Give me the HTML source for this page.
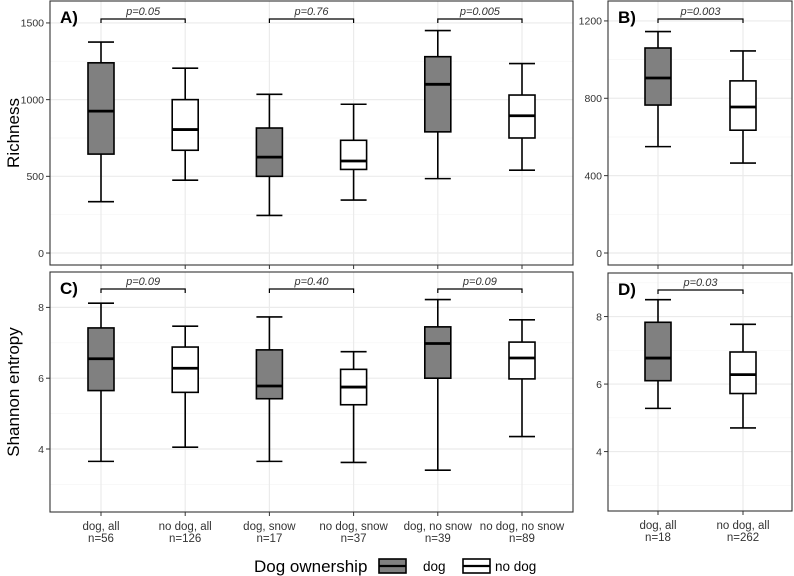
<!DOCTYPE html>
<html><head><meta charset="utf-8"><style>
body{margin:0;background:#fff;}
svg{display:block;font-family:"Liberation Sans",Arial,sans-serif;}
</style></head><body>
<svg id="chart" width="794" height="576" viewBox="0 0 794 576"></svg>
<script>
const catsLeft = ["dog, all","no dog, all","dog, snow","no dog, snow","dog, no snow","no dog, no snow"];
const nLeft = ["n=56","n=126","n=17","n=37","n=39","n=89"];
const groupLeft = ["dog","nodog","dog","nodog","dog","nodog"];
const catsRight = ["dog, all","no dog, all"];
const nRight = ["n=18","n=262"];
const groupRight = ["dog","nodog"];
// [min, q1, median, q3, max]
const richA = [[335,645,925,1240,1375],[475,670,805,1000,1205],[245,500,625,815,1035],[345,545,600,735,970],[485,790,1100,1280,1450],[540,750,895,1030,1235]];
const richB = [[550,765,905,1060,1145],[465,635,755,890,1045]];
const shanC = [[3.65,5.65,6.55,7.42,8.12],[4.05,5.6,6.28,6.88,7.47],[3.65,5.42,5.78,6.8,7.73],[3.62,5.25,5.75,6.25,6.75],[3.4,6.0,6.98,7.45,8.22],[4.35,5.98,6.57,7.02,7.65]];
const shanD = [[5.28,6.1,6.77,7.83,8.5],[4.7,5.72,6.28,6.95,7.77]];
const ticksA = [0,500,1000,1500], minorA=[250,750,1250];
const ticksB = [0,400,800,1200], minorB=[200,600,1000];
const ticksC = [4,6,8], minorC=[3,5,7,9];
const pA = ["p=0.05","p=0.76","p=0.005"], pB=["p=0.003"], pC=["p=0.09","p=0.40","p=0.09"], pD=["p=0.03"];

const svg=document.getElementById('chart');
const NS='http://www.w3.org/2000/svg';
function mk(tag,attrs,parent){const e=document.createElementNS(NS,tag);for(const k in attrs)e.setAttribute(k,attrs[k]);(parent||svg).appendChild(e);return e;}

function panel(o){
  const g=mk('g',{});
  
  
  const y=v=>o.y1-(v-o.d0)/(o.d1-o.d0)*(o.y1-o.y0);
  const x=i=>o.cx0+i*o.step;
  mk('rect',{x:o.x0,y:o.y0,width:o.x1-o.x0,height:o.y1-o.y0,fill:'#fff'},g);
  o.minor.forEach(v=>{if(y(v)>o.y0&&y(v)<o.y1)mk('line',{x1:o.x0,x2:o.x1,y1:y(v),y2:y(v),stroke:'#f5f5f5','stroke-width':0.7},g);});
  o.ticks.forEach(v=>{mk('line',{x1:o.x0,x2:o.x1,y1:y(v),y2:y(v),stroke:'#ebebeb','stroke-width':1.2},g);});
  o.data.forEach((d,i)=>mk('line',{x1:x(i),x2:x(i),y1:o.y0,y2:o.y1,stroke:'#ebebeb','stroke-width':1.2},g));
  o.data.forEach((d,i)=>{
    const bg=mk('g',{},g);
    
    
    const cx=x(i),hw=13;
    mk('line',{x1:cx,x2:cx,y1:y(d[0]),y2:y(d[1]),stroke:'#000','stroke-width':1.6},bg);
    mk('line',{x1:cx,x2:cx,y1:y(d[3]),y2:y(d[4]),stroke:'#000','stroke-width':1.6},bg);
    mk('line',{x1:cx-hw,x2:cx+hw,y1:y(d[0]),y2:y(d[0]),stroke:'#000','stroke-width':1.6},bg);
    mk('line',{x1:cx-hw,x2:cx+hw,y1:y(d[4]),y2:y(d[4]),stroke:'#000','stroke-width':1.6},bg);
    mk('rect',{x:cx-hw,y:y(d[3]),width:2*hw,height:y(d[1])-y(d[3]),fill:o.groups[i]==='dog'?'#808080':'#fff',stroke:'#000','stroke-width':1.6},bg);
    mk('line',{x1:cx-hw,x2:cx+hw,y1:y(d[2]),y2:y(d[2]),stroke:'#000','stroke-width':2.8},bg);
  });
  o.p.forEach((t,k)=>{
    const xa=x(2*k),xb=x(2*k+1),by=o.by;
    const b=mk('path',{d:`M${xa},${by+4}V${by}H${xb}V${by+4}`,fill:'none',stroke:'#000','stroke-width':1.2},g);
    
    
    const tx=mk('text',{x:(xa+xb)/2,y:by-4,'text-anchor':'middle','font-size':11,'font-style':'italic',fill:'#333'},g);
    tx.textContent=t;
    
    
  });
  mk('rect',{x:o.x0,y:o.y0,width:o.x1-o.x0,height:o.y1-o.y0,fill:'none',stroke:'#333','stroke-width':1.1},g);
  o.ticks.forEach(v=>{
    mk('line',{x1:o.x0-4,x2:o.x0,y1:y(v),y2:y(v),stroke:'#333','stroke-width':1},g);
    const t=mk('text',{x:o.x0-6,y:y(v)+3.8,'text-anchor':'end','font-size':10.5,fill:'#333'},g);
    t.textContent=v;
    
    
  });
  const lab=mk('text',{x:o.x0+10,y:o.y0+22,'font-size':17,'font-weight':'bold',fill:'#000'},g);
  lab.textContent=o.label;
  
  
  o.data.forEach((d,i)=>mk('line',{x1:x(i),x2:x(i),y1:o.y1,y2:o.y1+4,stroke:'#333','stroke-width':1},g));
  if(o.xlab){
    o.data.forEach((d,i)=>{
      const t1=mk('text',{x:x(i),y:o.y1+18,'text-anchor':'middle','font-size':11.5,fill:'#333'},g);
      t1.textContent=o.cats[i];
      
      
      const t2=mk('text',{x:x(i),y:o.y1+30,'text-anchor':'middle','font-size':11.5,fill:'#333'},g);
      t2.textContent=o.ns[i];
      
      
    });
  }
}
panel({name:'panel-a-richness',label:'A)',x0:50,x1:573,y0:1,y1:265,d0:-78,d1:1643,cx0:101,step:84.2,data:richA,groups:groupLeft,cats:catsLeft,ns:nLeft,ticks:ticksA,minor:minorA,p:pA,by:19,xlab:false});
panel({name:'panel-b-richness',label:'B)',x0:608,x1:792,y0:1,y1:265,d0:-62,d1:1303,cx0:658,step:85,data:richB,groups:groupRight,cats:catsRight,ns:nRight,ticks:ticksB,minor:minorB,p:pB,by:19,xlab:false});
panel({name:'panel-c-shannon',label:'C)',x0:50,x1:573,y0:272,y1:512,d0:2.22,d1:9.0,cx0:101,step:84.2,data:shanC,groups:groupLeft,cats:catsLeft,ns:nLeft,ticks:ticksC,minor:minorC,p:pC,by:289,xlab:true});
panel({name:'panel-d-shannon',label:'D)',x0:608,x1:792,y0:273,y1:511,d0:2.24,d1:9.29,cx0:658,step:85,data:shanD,groups:groupRight,cats:catsRight,ns:nRight,ticks:ticksC,minor:minorC,p:pD,by:290,xlab:true});

function title(txt,x,y,name){
  const t=mk('text',{x:x,y:y,'text-anchor':'middle','font-size':17,fill:'#000',transform:`rotate(-90 ${x} ${y})`});
  t.textContent=txt;
  
  
}
title('Richness',19,133,'y-axis-title-richness');
title('Shannon entropy',19,392,'y-axis-title-shannon');

const lg=mk('g',{});


const lt=mk('text',{x:254,y:572,'font-size':17,fill:'#000'},lg);lt.textContent='Dog ownership';


[['dog','#808080',379,423],['no dog','#fff',463,495]].forEach(([n,f,kx,tx])=>{
  const e=mk('g',{},lg);
  
  
  mk('rect',{x:kx,y:559,width:27,height:14,fill:f,stroke:'#000','stroke-width':1.6},e);
  mk('line',{x1:kx,x2:kx+27,y1:566,y2:566,stroke:'#000','stroke-width':2.2},e);
  const t=mk('text',{x:tx,y:571,'font-size':13.5,fill:'#000'},e);t.textContent=n;
});
</script>
</body></html>
